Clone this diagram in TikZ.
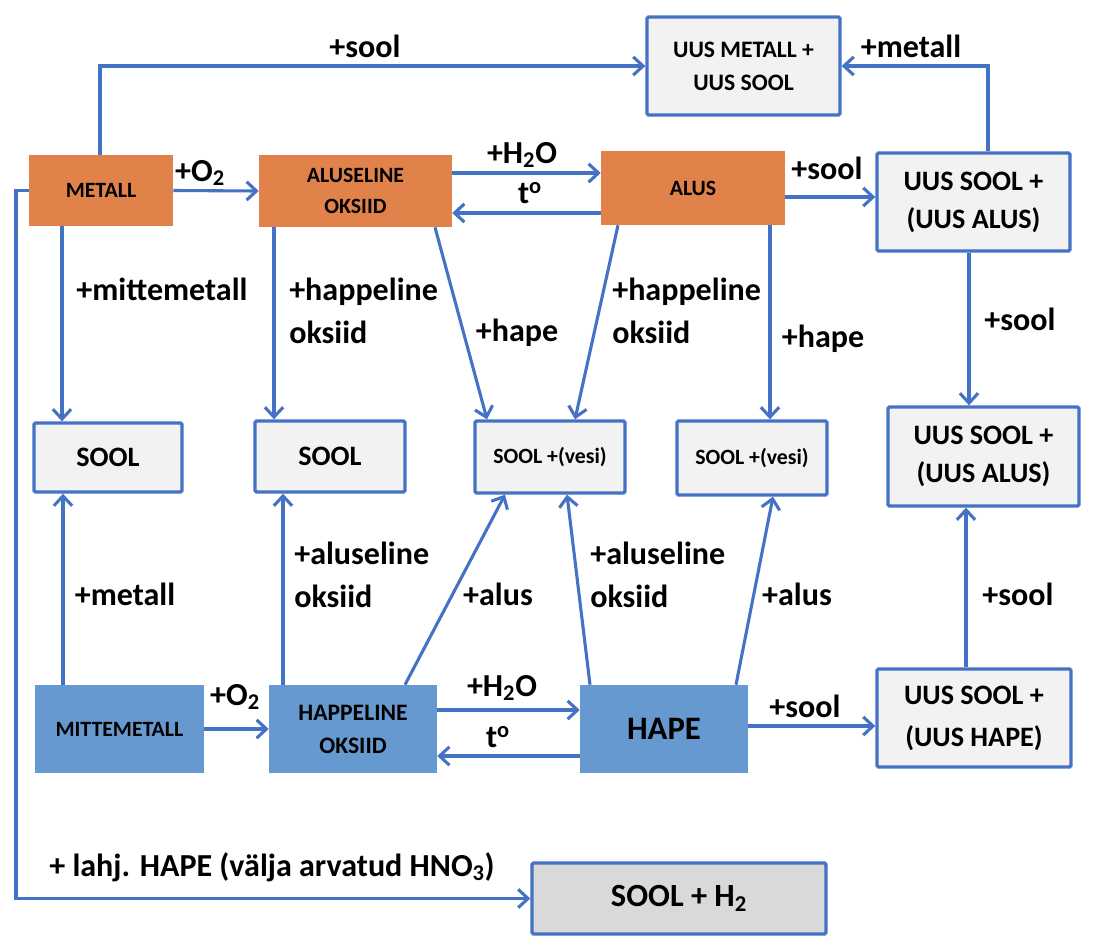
\documentclass[tikz,border=0pt]{standalone}
\usepackage{fontspec}
\setmainfont{Carlito}
\usetikzlibrary{arrows.meta}
\definecolor{lineblue}{HTML}{4472C4}
\definecolor{orng}{HTML}{E0824A}
\definecolor{bblue}{HTML}{6699CF}
\definecolor{lgray}{HTML}{F2F2F2}
\definecolor{dgray}{HTML}{D9D9D9}
\begin{document}
\begin{tikzpicture}[x=0.025cm,y=-0.025cm,
 sz/.style 2 args={minimum width=#1*0.025cm, minimum height=#2*0.025cm, inner sep=0pt, align=center},
 obox/.style={fill=orng, draw=none},
 bbox/.style={fill=bblue, draw=none},
 wbox/.style={fill=lgray, draw=lineblue, line width=2.4pt, rounded corners=1pt},
 conn/.style={draw=lineblue, line width=2.2pt, -{Straight Barb[length=7pt,width=13pt]}},
 lbl/.style={font=\fontsize{22.8}{31}\selectfont\bfseries, align=left, inner sep=0pt},
 fA/.style={font=\fontsize{15.5}{22}\selectfont\bfseries},
 fB/.style={font=\fontsize{16.8}{23.4}\selectfont\bfseries},
 fC/.style={font=\fontsize{20}{27}\selectfont\bfseries},
]
\useasboundingbox (0,0) rectangle (1094,948);
% boxes
\node[wbox,fB,sz={193}{98}] (uusmet) at (743.5,66) {UUS METALL +\\UUS SOOL};
\node[obox,fA,sz={144}{71}] (metall) at (101,190.5) {METALL};
\node[obox,fA,sz={193}{72}] (alox) at (355.5,191) {ALUSELINE\\OKSIID};
\node[obox,fA,sz={184}{74}] (alus) at (693,188) {ALUS};
\node[wbox,fC,sz={193}{98}] (uusA) at (973.5,202) {UUS SOOL +\\(UUS ALUS)};
\node[wbox,fC,sz={148}{69}] (sool1) at (108,457.5) {SOOL};
\node[wbox,fC,sz={150}{71}] (sool2) at (330,456.5) {SOOL};
\node[wbox,fA,sz={150}{72}] (vesi1) at (550,457) {SOOL +(vesi)};
\node[wbox,fA,sz={150}{74}] (vesi2) at (752,458) {SOOL +(vesi)};
\node[wbox,fC,sz={191}{99}] (uusA2) at (983.5,456.5) {UUS SOOL +\\(UUS ALUS)};
\node[bbox,fA,sz={169}{88}] (mitte) at (119.5,729) {MITTEMETALL};
\node[bbox,fB,sz={168}{88}] (hox) at (353,729) {HAPPELINE\\OKSIID};
\node[bbox,font=\fontsize{23.3}{26}\selectfont\bfseries,sz={168}{88}] (hape) at (664,729) {HAPE};
\node[wbox,font=\fontsize{20}{30}\selectfont\bfseries,sz={194}{98}] (uusH) at (974,718) {UUS SOOL +\\(UUS HAPE)};
\node[wbox,fill=dgray,font=\fontsize{23}{26}\selectfont\bfseries,sz={294}{71}] (soolh2) at (679,898.5) {SOOL + H\textsubscript{2}};
% connectors
\draw[conn] (100,0 |- metall.north) |- (uusmet.west);
\draw[conn] (988,0 |- uusA.north) |- (uusmet.east);
\draw[conn] (metall.east) -- (alox.west);
\draw[conn] (alox.east |- 0,173) -- (alus.west |- 0,173);
\draw[conn] (alus.west |- 0,213) -- (alox.east |- 0,213);
\draw[conn] (alus.east |- 0,197) -- (uusA.west |- 0,197);
\draw[conn] (metall.west) -- (16,0 |- metall.west) -- (16,0 |- soolh2.west) -- (soolh2.west);
\draw[conn] (62,0 |- metall.south) -- (62,0 |- sool1.north);
\draw[conn] (274,0 |- alox.south) -- (274,0 |- sool2.north);
\draw[conn] (435,0 |- alox.south) -- (487,0 |- vesi1.north);
\draw[conn] (618,0 |- alus.south) -- (575,0 |- vesi1.north);
\draw[conn] (770,0 |- alus.south) -- (770,0 |- vesi2.north);
\draw[conn] (969,0 |- uusA.south) -- (969,0 |- uusA2.north);
\draw[conn] (63,0 |- mitte.north) -- (63,0 |- sool1.south);
\draw[conn] (283,0 |- hox.north) -- (283,0 |- sool2.south);
\draw[conn] (405,0 |- hox.north) -- (505,0 |- vesi1.south);
\draw[conn] (590,0 |- hape.north) -- (567,0 |- vesi1.south);
\draw[conn] (736,0 |- hape.north) -- (773,0 |- vesi2.south);
\draw[conn] (966,0 |- uusH.north) -- (966,0 |- uusA2.south);
\draw[conn] (mitte.east) -- (hox.west);
\draw[conn] (hox.east |- 0,710) -- (hape.west |- 0,710);
\draw[conn] (hape.west |- 0,756) -- (hox.east |- 0,756);
\draw[conn] (hape.east |- 0,726) -- (uusH.west |- 0,726);
% labels
\node[lbl] (l1) at (365,46) {+sool};
\node[lbl] (l2) at (911,46) {+metall};
\node[lbl] (l3) at (200,173) {+O\textsubscript{2}};
\node[lbl] (l4) at (522,155) {+H\textsubscript{2}O};
\node[lbl] (l5) at (530,193) {t\textsuperscript{o}};
\node[lbl] (l6) at (827,168) {+sool};
\node[lbl] (l7) at (162,289) {+mittemetall};
\node[lbl,anchor=west] (l8) at (289,311) {+happeline\\oksiid};
\node[lbl] (l9) at (517,333) {+hape};
\node[lbl,anchor=west] (l10) at (612,311) {+happeline\\oksiid};
\node[lbl] (l11) at (823,339) {+hape};
\node[lbl] (l12) at (1020,319) {+sool};
\node[lbl] (l13) at (125,594) {+metall};
\node[lbl,anchor=west] (l14) at (294,575) {+aluseline\\oksiid};
\node[lbl] (l15) at (498,594) {+alus};
\node[lbl,anchor=west] (l16) at (590,575) {+aluseline\\oksiid};
\node[lbl] (l17) at (797,594) {+alus};
\node[lbl] (l18) at (1018,594) {+sool};
\node[lbl] (l19) at (235,697) {+O\textsubscript{2}};
\node[lbl] (l20) at (502,688) {+H\textsubscript{2}O};
\node[lbl] (l21) at (498,737) {t\textsuperscript{o}};
\node[lbl] (l22) at (805,706) {+sool};
\node[lbl] (l23) at (272,867) {+ lahj. HAPE (välja arvatud HNO\textsubscript{3})};
\end{tikzpicture}
\end{document}
